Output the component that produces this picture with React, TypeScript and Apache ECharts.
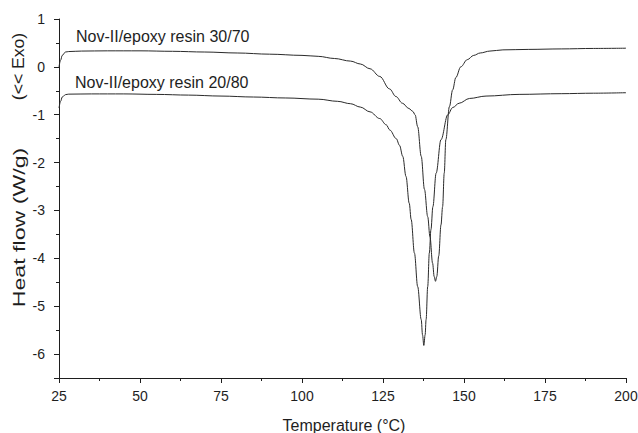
import React, { useEffect, useRef } from "react";
import * as echarts from "echarts";

// Temperature (°C) / heat flow (W/g) pairs
const temp3070 = [25, 25.5, 26, 27, 28, 32, 40, 50, 60, 70, 80, 90, 100, 105, 110, 115, 118, 121, 124, 127, 129, 131, 133, 134.2, 134.9, 135.7, 136.8, 137.8, 138.8, 139.5, 140.3, 140.8, 141.2, 141.6, 142.2, 142.9, 143.4, 143.9, 144.4, 145.5, 146.5, 147.5, 149, 151, 153, 155, 158, 162, 170, 180, 190, 200];
const flow3070 = [0.0, 0.14, 0.24, 0.31, 0.32, 0.33, 0.335, 0.335, 0.325, 0.31, 0.29, 0.265, 0.24, 0.22, 0.175, 0.12, 0.06, -0.04, -0.2, -0.46, -0.62, -0.76, -0.87, -0.93, -1.0, -1.25, -1.87, -2.56, -3.13, -3.55, -4.1, -4.38, -4.48, -4.38, -3.95, -3.3, -2.92, -2.22, -1.52, -0.83, -0.48, -0.22, 0.0, 0.15, 0.24, 0.29, 0.33, 0.355, 0.365, 0.375, 0.385, 0.39];

const temp2080 = [25, 25.5, 26, 27, 28, 35, 45, 55, 65, 75, 85, 95, 105, 111, 115, 118, 121, 124, 126, 127.1, 129.1, 130.1, 131.1, 132.1, 133.1, 133.7, 134.7, 135.7, 136.8, 137.2, 137.6, 138, 138.3, 138.8, 139.3, 139.8, 140.4, 141.4, 142.9, 145, 146.5, 148.5, 151.7, 156.8, 167, 180, 190, 200];
const flow2080 = [-0.86, -0.72, -0.63, -0.58, -0.57, -0.565, -0.565, -0.575, -0.59, -0.61, -0.63, -0.65, -0.675, -0.72, -0.77, -0.84, -0.94, -1.08, -1.21, -1.32, -1.5, -1.64, -1.87, -2.29, -2.85, -3.19, -3.89, -4.59, -5.28, -5.6, -5.82, -5.6, -5.28, -4.59, -3.89, -3.4, -2.92, -2.22, -1.52, -1.0, -0.85, -0.76, -0.66, -0.61, -0.575, -0.56, -0.55, -0.54];

const seriesNames = ["Nov-II/epoxy resin 30/70", "Nov-II/epoxy resin 20/80"];
const xTitle = "Temperature (°C)";
const yTitle = "Heat flow (W/g)";
const yTitle2 = "(<< Exo)";

const FONT = "'Liberation Sans', Arial, Helvetica, sans-serif";
const INK = "#1e1e1e";

export default function App() {
  const ref = useRef<HTMLDivElement>(null);
  useEffect(() => {
    if (!ref.current) return;
    const chart = echarts.init(ref.current, undefined, { renderer: "svg" });
    const zip = (xs: number[], ys: number[]) => xs.map((x, i) => [x, ys[i]]);
    chart.setOption({
      animation: false,
      backgroundColor: "#ffffff",
      textStyle: { fontFamily: FONT },
      grid: { left: 59, right: 12, top: 19, bottom: 55, containLabel: false, outerBoundsMode: "none" },
      xAxis: {
        type: "value",
        min: 25,
        max: 200,
        interval: 25,
        axisLine: { show: true, onZero: false, lineStyle: { color: INK, width: 1 } },
        axisTick: { show: true, length: 5, lineStyle: { color: INK } },
        minorTick: { show: true, splitNumber: 2, length: 3, lineStyle: { color: INK } },
        splitLine: { show: false },
        minorSplitLine: { show: false },
        axisLabel: { color: INK, fontSize: 14, margin: 11, fontFamily: FONT },
      },
      yAxis: [
        {
          type: "value",
          position: "left",
          min: -6.5,
          max: 1,
          interval: 0.5,
          axisLine: { show: true, onZero: false, lineStyle: { color: INK, width: 1 } },
          axisTick: { show: true, length: 3, lineStyle: { color: INK } },
          axisLabel: { show: false },
          splitLine: { show: false },
        },
        {
          type: "value",
          position: "left",
          min: -6.5,
          max: 1,
          splitNumber: 8,
          axisLine: { show: false, onZero: false },
          axisTick: { show: true, length: 5, lineStyle: { color: INK } },
          axisLabel: {
            color: INK,
            fontSize: 14,
            margin: 14,
            fontFamily: FONT,
            formatter: (v: number) => (Number.isInteger(v) ? String(v) : ""),
          },
          splitLine: { show: false },
        },
      ],
      series: [
        {
          name: seriesNames[0],
          type: "line",
          data: zip(temp3070, flow3070),
          showSymbol: false,
          smooth: 0.35,
          smoothMonotone: "x",
          lineStyle: { color: "#2a2a2a", width: 1 },
          yAxisIndex: 0,
        },
        {
          name: seriesNames[1],
          type: "line",
          data: zip(temp2080, flow2080),
          showSymbol: false,
          smooth: 0.35,
          smoothMonotone: "x",
          lineStyle: { color: "#2a2a2a", width: 1 },
          yAxisIndex: 0,
        },
      ],
      graphic: [
        {
          type: "text",
          x: 76,
          y: 36,
          style: { text: seriesNames[0], fill: INK, font: `16px ${FONT}`, textAlign: "left", textVerticalAlign: "middle" },
        },
        {
          type: "text",
          x: 75,
          y: 82,
          style: { text: seriesNames[1], fill: INK, font: `16px ${FONT}`, textAlign: "left", textVerticalAlign: "middle" },
        },
        {
          type: "text",
          x: 344,
          y: 425,
          style: { text: xTitle, fill: INK, font: `16px ${FONT}`, textAlign: "center", textVerticalAlign: "middle" },
        },
        {
          type: "text",
          x: 19,
          y: 227.5,
          rotation: Math.PI / 2,
          scaleX: 1.45,
          style: { text: yTitle, fill: INK, font: `16px ${FONT}`, textAlign: "center", textVerticalAlign: "middle" },
        },
        {
          type: "text",
          x: 19,
          y: 66.5,
          rotation: Math.PI / 2,
          scaleX: 1.1,
          style: { text: yTitle2, fill: INK, font: `16px ${FONT}`, textAlign: "center", textVerticalAlign: "middle" },
        },
      ],
    });
    return () => chart.dispose();
  }, []);
  return (
    <div
      ref={ref}
      style={{ position: "fixed", left: 0, top: 0, width: 638, height: 433, background: "#fff" }}
    />
  );
}
